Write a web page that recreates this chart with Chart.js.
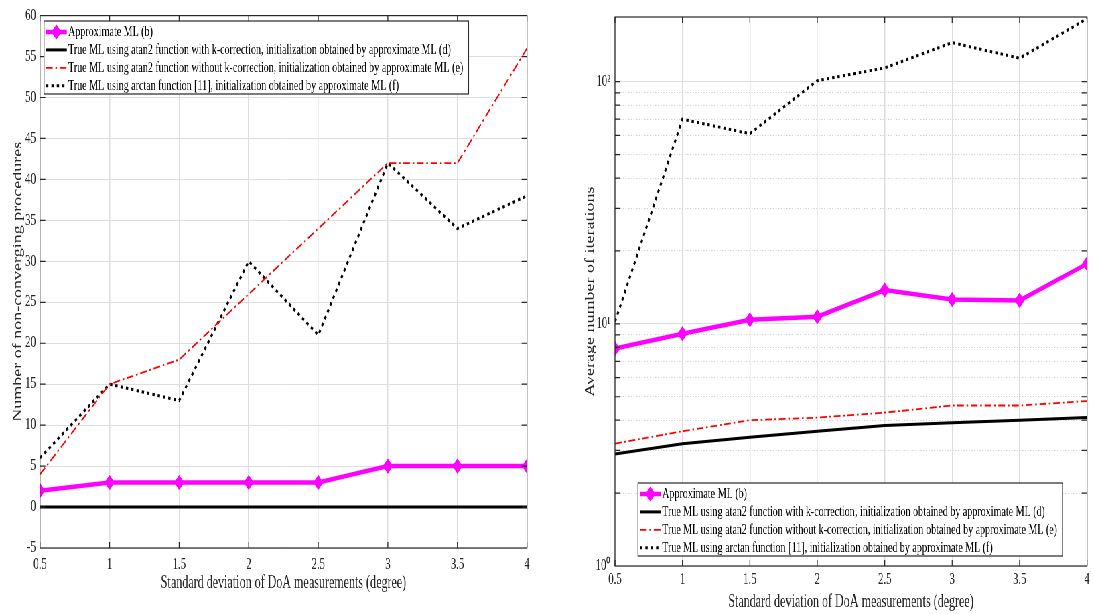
<!DOCTYPE html>
<html>
<head>
<meta charset="utf-8">
<script src="https://cdn.jsdelivr.net/npm/chart.js@4.4.0/dist/chart.umd.min.js"></script>
<style>
  html, body { margin: 0; padding: 0; background: #fff; overflow: hidden; }
  /* the original figure is squeezed horizontally, so draw wide and scale down */
  #stage { position: absolute; left: 0; top: 0; width: 1633px; height: 614px; transform: scaleX(0.66993); transform-origin: 0 0; }
  #left { position: absolute; left: 0; top: 0; }
  #right { position: absolute; left: 830px; top: 0; }
</style>
</head>
<body>
<div id="stage">
  <canvas id="left" width="830" height="614"></canvas>
  <canvas id="right" width="803" height="614"></canvas>
</div>
<script>
const sigma = [0.5, 1, 1.5, 2, 2.5, 3, 3.5, 4]

const seriesNames = [
  'Approximate ML (b)',
  'True ML using atan2 function with k-correction, initialization obtained by approximate ML (d)',
  'True ML using atan2 function without k-correction, initialization obtained by approximate ML (e)',
  'True ML using arctan function [11], initialization obtained by approximate ML (f)'
]

// left: number of non-converging procedures
const failApprox = [2, 3, 3, 3, 3, 5, 5, 5]
const failAtan2K = [0, 0, 0, 0, 0, 0, 0, 0]
const failAtan2NoK = [4, 15, 18, 26, 34, 42, 42, 56]
const failArctan = [6, 15, 13, 30, 21, 42, 34, 38]

// right: average number of iterations (log axis)
const iterApprox = [7.9, 9.1, 10.4, 10.7, 13.8, 12.6, 12.5, 17.7]
const iterAtan2K = [2.9, 3.2, 3.4, 3.6, 3.8, 3.9, 4.0, 4.1]
const iterAtan2NoK = [3.2, 3.6, 4.0, 4.1, 4.3, 4.6, 4.6, 4.8]
const iterArctan = [10.2, 70, 61, 101, 114, 145, 125, 182]

const xTickLabels = ['0.5', '1', '1.5', '2', '2.5', '3', '3.5', '4']
const decadeLabels = { 1: '10\u2070', 10: '10\u00b9', 100: '10\u00b2' }

const xTitle = 'Standard deviation of DoA measurements (degree)'
const leftYTitle = 'Number of non-converging procedures'
const rightYTitle = 'Average number of iterations'

Chart.defaults.font.family = "'Liberation Serif', 'Times New Roman', serif"
Chart.defaults.color = '#262626'

const isDecade = v => Math.abs(Math.log10(v) - Math.round(Math.log10(v))) < 1e-9
const isWholeSignificand = v => {
  const m = v / Math.pow(10, Math.floor(Math.log10(v) + 1e-9))
  return Math.abs(m - Math.round(m)) < 1e-6
}

function makeSets(a, b, c, d) {
  const pts = arr => arr.map((v, i) => ({ x: sigma[i], y: v }))
  return [
    { label: seriesNames[0], data: pts(a), borderColor: '#ff00ff', backgroundColor: '#ff00ff',
      borderWidth: 4.5, pointStyle: 'rectRot', pointRadius: 6.5, pointHoverRadius: 6.5, pointBorderWidth: 1.5 },
    { label: seriesNames[1], data: pts(b), borderColor: '#000000', borderWidth: 3, pointRadius: 0 },
    { label: seriesNames[2], data: pts(c), borderColor: '#ff0000', borderWidth: 1.8, borderDash: [10, 4, 2.5, 4], pointRadius: 0 },
    { label: seriesNames[3], data: pts(d), borderColor: '#000000', borderWidth: 3, borderDash: [3.5, 4.5], pointRadius: 0 }
  ]
}

// matlab style box with inward ticks
const matlabAxes = {
  id: 'matlabAxes',
  afterDatasetsDraw(chart) {
    const { ctx, chartArea: a, scales } = chart
    ctx.save()
    ctx.strokeStyle = '#262626'
    ctx.lineWidth = 1.2
    ctx.beginPath()
    scales.x.ticks.forEach((t, i) => {
      const px = scales.x.getPixelForTick(i)
      ctx.moveTo(px, a.bottom); ctx.lineTo(px, a.bottom - 6)
      ctx.moveTo(px, a.top); ctx.lineTo(px, a.top + 6)
    })
    scales.y.ticks.forEach((t, i) => {
      const py = scales.y.getPixelForTick(i)
      if (py < a.top + 1 || py > a.bottom - 1) return
      ctx.moveTo(a.left, py); ctx.lineTo(a.left + 8, py)
      ctx.moveTo(a.right, py); ctx.lineTo(a.right - 8, py)
    })
    ctx.stroke()
    ctx.strokeRect(a.left, a.top, a.right - a.left, a.bottom - a.top)
    ctx.restore()
  }
}

// legend drawn inside the axes like matlab does
const boxLegend = {
  id: 'boxLegend',
  afterDraw(chart, args, opts) {
    const { ctx, chartArea: a } = chart
    const sets = chart.data.datasets
    ctx.save()
    ctx.font = opts.font
    let w = 0
    sets.forEach(d => { w = Math.max(w, ctx.measureText(d.label).width) })
    const left = a.left + opts.dx
    const top = opts.y
    const textX = 36
    const width = textX + w + 8
    const height = 73
    ctx.fillStyle = '#ffffff'
    ctx.fillRect(left, top, width, height)
    ctx.strokeStyle = '#262626'
    ctx.lineWidth = 1.2
    ctx.strokeRect(left, top, width, height)
    sets.forEach((d, i) => {
      const y = top + 11 + i * 17.9
      ctx.save()
      ctx.strokeStyle = d.borderColor
      ctx.lineWidth = d.borderWidth
      ctx.setLineDash(d.borderDash || [])
      ctx.beginPath()
      ctx.moveTo(left + 3, y)
      ctx.lineTo(left + 34, y)
      ctx.stroke()
      if (d.pointRadius) {
        const r = d.pointRadius, cx = left + 18.5
        ctx.setLineDash([])
        ctx.fillStyle = d.backgroundColor
        ctx.lineWidth = d.pointBorderWidth
        ctx.beginPath()
        ctx.moveTo(cx, y - r); ctx.lineTo(cx + r, y); ctx.lineTo(cx, y + r); ctx.lineTo(cx - r, y)
        ctx.closePath()
        ctx.fill(); ctx.stroke()
      }
      ctx.restore()
      ctx.fillStyle = '#000000'
      ctx.textBaseline = 'middle'
      ctx.fillText(d.label, left + textX, y)
    })
    ctx.restore()
  }
}

const xScale = (height, pad, titlePad) => ({
  type: 'linear', min: 0.5, max: 4,
  afterFit: s => { s.height = height },
  ticks: {
    stepSize: 0.5, padding: pad, font: { size: 16 }, maxRotation: 0,
    callback: v => xTickLabels[sigma.indexOf(v)] ?? ''
  },
  grid: { color: '#dedede', lineWidth: 1.5, drawTicks: false },
  border: { display: false },
  title: { display: true, text: xTitle, font: { size: 18 }, padding: { top: 0, bottom: titlePad } }
})

new Chart(document.getElementById('left'), {
  type: 'line',
  data: { datasets: makeSets(failApprox, failAtan2K, failAtan2NoK, failArctan) },
  options: {
    responsive: false, animation: false, devicePixelRatio: 1,
    layout: { padding: { left: 0, right: 43.4, top: 14, bottom: 0 } },
    scales: {
      x: xScale(66, 7, 20),
      y: {
        min: -5, max: 60,
        afterFit: s => { s.width = 59.7 },
        ticks: { stepSize: 5, padding: 6, font: { size: 16 } },
        grid: { color: '#dedede', lineWidth: 1, drawTicks: false },
        border: { display: false },
        title: { display: true, text: leftYTitle, font: { size: 18 }, padding: { top: 16, bottom: 0 } }
      }
    },
    plugins: {
      legend: { display: false },
      tooltip: { enabled: false },
      boxLegend: { dx: 6, y: 21, font: "15px 'Liberation Serif'" }
    }
  },
  plugins: [matlabAxes, boxLegend]
})

new Chart(document.getElementById('right'), {
  type: 'line',
  data: { datasets: makeSets(iterApprox, iterAtan2K, iterAtan2NoK, iterArctan) },
  options: {
    responsive: false, animation: false, devicePixelRatio: 1,
    layout: { padding: { left: 0, right: 10.4, top: 17, bottom: 0 } },
    scales: {
      x: xScale(48, 4, 1),
      y: {
        type: 'logarithmic', min: 1, max: 185,
        afterFit: s => { s.width = 88 },
        afterBuildTicks: s => { s.ticks = s.ticks.filter(t => isWholeSignificand(t.value)) },
        ticks: {
          autoSkip: false, padding: 7, font: { size: 16 },
          callback: v => decadeLabels[Math.round(v)] && isDecade(v) ? decadeLabels[Math.round(v)] : ''
        },
        grid: {
          drawTicks: false, lineWidth: 1,
          color: c => (c.tick && !isDecade(c.tick.value)) ? '#cfcfcf' : '#dedede'
        },
        border: {
          display: false,
          dash: c => (c.tick && !isDecade(c.tick.value)) ? [1.5, 2.5] : []
        },
        title: { display: true, text: rightYTitle, font: { size: 18 }, padding: { top: 40, bottom: 0 } }
      }
    },
    plugins: {
      legend: { display: false },
      tooltip: { enabled: false },
      boxLegend: { dx: 34.3, y: 483, font: "15px 'Liberation Serif'" }
    }
  },
  plugins: [matlabAxes, boxLegend]
})
</script>
</body>
</html>
